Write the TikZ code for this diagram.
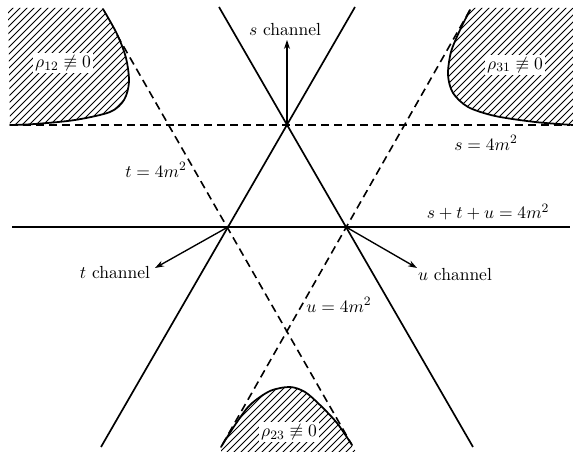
\documentclass[tikz,border=0pt]{standalone}
\usepackage{amssymb}
\usetikzlibrary{arrows.meta}
\begin{document}
\begin{tikzpicture}[x=0.625pt,y=-0.625pt,
  sline/.style={line width=1.05pt},
  dashline/.style={line width=1pt,dash pattern=on 5pt off 3.1pt},
  bound/.style={line width=1.1pt,line cap=round},
  hatch/.style={line width=0.6pt},
  lab/.style={font=\fontsize{10.95}{13}\selectfont, inner sep=1.2pt},
  arr/.style={line width=0.85pt,-{Stealth[length=5.6pt,width=3.8pt]}}]
\useasboundingbox (0,0) rectangle (573,452);

% vertices
\coordinate (S) at (287,125);
\coordinate (T) at (228,227);
\coordinate (U) at (346,227);
% line ends
\coordinate (a1) at (219,7);   \coordinate (a2) at (473,447);
\coordinate (b1) at (355,7);   \coordinate (b2) at (101,447);
\coordinate (h1) at (12,227);  \coordinate (h2) at (570,227);
\coordinate (d1) at (10,125);  \coordinate (d2) at (570,125);
\coordinate (t1) at (117,35);  \coordinate (t2) at (352,445);
\coordinate (u1) at (470,10);  \coordinate (u2) at (221,447);

% hatched regions
\begin{scope}
  \clip (8,8) -- (103,8) -- plot[smooth] coordinates {(103,9) (117,34) (126,58) (129,82) (124,100) (110,112) (75,120) (35,124) (10,125)} -- cycle;
  \foreach \k in {-460,-453,...,600} \draw[hatch] (\k,460) -- (\k+460,0);
\end{scope}
\begin{scope}
  \clip (470,8) -- (573,8) -- plot[smooth] coordinates {(573,125) (535,122) (495,116) (468,107) (453,93) (448,75) (451,52) (460,30) (470,10)} -- cycle;
  \foreach \k in {-460,-453,...,600} \draw[hatch] (\k,460) -- (\k+460,0);
\end{scope}
\begin{scope}
  \clip plot[smooth] coordinates {(221,447) (235,425) (250,405) (270,391) (290,387) (305,392) (320,405) (337,423) (352,445)} -- (356,452) -- (221,452) -- cycle;
  \foreach \k in {-460,-453,...,600} \draw[hatch] (\k,460) -- (\k+460,0);
\end{scope}

% boundary curves
\draw[bound] plot[smooth] coordinates {(103,9) (117,34) (126,58) (129,82) (124,100) (110,112) (75,120) (35,124) (10,125)};
\draw[bound] plot[smooth] coordinates {(573,125) (535,122) (495,116) (468,107) (453,93) (448,75) (451,52) (460,30) (470,10)};
\draw[bound] plot[smooth] coordinates {(221,447) (235,425) (250,405) (270,391) (290,387) (305,392) (320,405) (337,423) (352,445)};

% region labels
\node[lab,fill=white] (r12) at (63,63) {$\rho_{12}\not\equiv 0$};
\node[lab,fill=white] (r31) at (515,65) {$\rho_{31}\not\equiv 0$};
\node[lab,fill=white] (r23) at (289,432) {$\rho_{23}\not\equiv 0$};

% solid lines
\draw[sline] (a1) -- (a2);
\draw[sline] (b1) -- (b2);
\draw[sline] (h1) -- (h2);
% dashed lines
\draw[dashline] (d1) -- (d2);
\draw[dashline] (t1) -- (t2);
\draw[dashline] (u1) -- (u2);

% labels
\node[lab] (sch) at (285,30) {$s$ channel};
\node[lab] (tch) at (115,273) {$t$ channel};
\node[lab] (uch) at (455,275) {$u$ channel};
\node[lab] (tl) at (156,170) {$t = 4m^2$};
\node[lab] (sl) at (486,143) {$s = 4m^2$};
\node[lab] (sum) at (488,212) {$s + t + u = 4m^2$};
\node[lab] (ul) at (339,305) {$u = 4m^2$};

% channel arrows
\coordinate (sa) at (287,40);
\coordinate (ta) at (155,268);
\coordinate (ua) at (417,268);
\draw[arr] (S) -- (sa);
\draw[arr] (T) -- (ta);
\draw[arr] (U) -- (ua);
\end{tikzpicture}
\end{document}
